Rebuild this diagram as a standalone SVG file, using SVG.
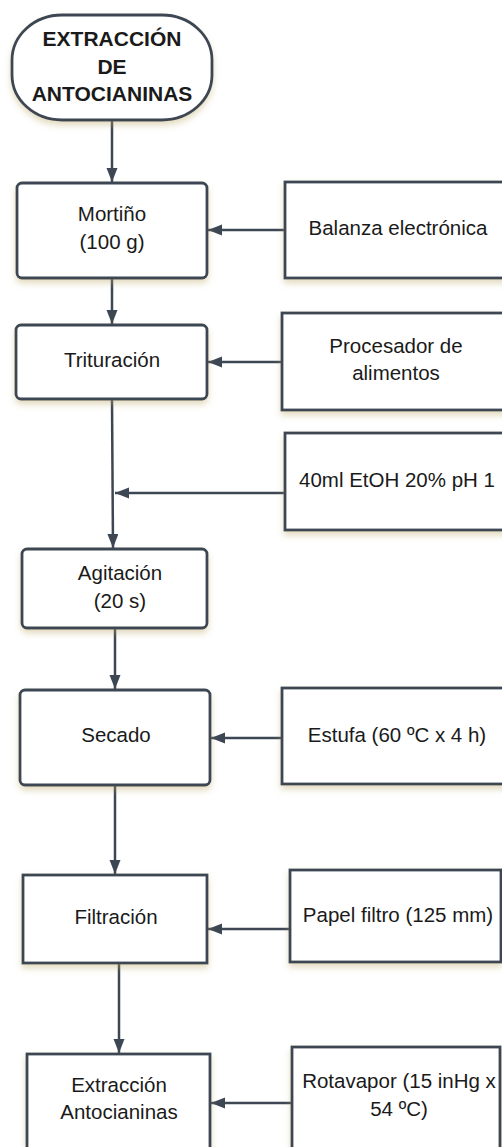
<svg xmlns="http://www.w3.org/2000/svg" width="502" height="1147" viewBox="0 0 502 1147">
<defs>
<filter id="sh" x="-10%" y="-10%" width="120%" height="130%">
<feDropShadow dx="0" dy="4" stdDeviation="3" flood-color="#b8a464" flood-opacity="0.4"/>
</filter>
<marker id="ah" markerUnits="userSpaceOnUse" markerWidth="15" markerHeight="12" refX="14" refY="5.5" orient="auto">
<path d="M0,0 L14,5.5 L0,11 z" fill="#3d4753"/>
</marker>
<style>
.box{fill:#fff;stroke:#3d4753;stroke-width:2.8;filter:url(#sh)}
.t{font-family:"Liberation Sans",Arial,sans-serif;font-size:20.5px;fill:#1a1a1a;text-anchor:middle}
.b{font-weight:bold;font-size:21px}
.c{fill:none;stroke:#3d4753;stroke-width:2.5;marker-end:url(#ah)}
</style>
</defs>
<rect width="502" height="1147" fill="#fff"/>
<g id="connectors">
<path class="c" d="M112,120 V182"/>
<path class="c" d="M285,230 H208"/>
<path class="c" d="M112,278 V324"/>
<path class="c" d="M282,362 H208"/>
<path class="c" d="M112,399 L113,548"/>
<path class="c" d="M285,493 H115"/>
<path class="c" d="M115,628 V689"/>
<path class="c" d="M282,738 H211"/>
<path class="c" d="M115,785 V874"/>
<path class="c" d="M290,929 H208"/>
<path class="c" d="M119,963 V1053"/>
<path class="c" d="M292,1103 H211"/>
</g>
<g id="start">
<rect class="box" x="12" y="15" width="200" height="105" rx="50" ry="45"/>
<text class="t b" x="112" y="46">EXTRACCIÓN</text>
<text class="t b" x="112" y="74">DE</text>
<text class="t b" x="112" y="101">ANTOCIANINAS</text>
</g>
<g id="mortino">
<rect class="box" x="17" y="183" width="190" height="95" rx="5"/>
<text class="t" x="112" y="221">Mortiño</text>
<text class="t" x="112" y="249">(100 g)</text>
</g>
<g id="balanza">
<rect class="box" x="285" y="182" width="240" height="96"/>
<text class="t" x="398" y="235">Balanza electrónica</text>
</g>
<g id="trituracion">
<rect class="box" x="16" y="325" width="191" height="74" rx="5"/>
<text class="t" x="112" y="367">Trituración</text>
</g>
<g id="procesador">
<rect class="box" x="282" y="313" width="240" height="97"/>
<text class="t" x="396" y="353">Procesador de</text>
<text class="t" x="396" y="380">alimentos</text>
</g>
<g id="etoh">
<rect class="box" x="285" y="433" width="240" height="97"/>
<text class="t" x="397" y="487">40ml EtOH 20% pH 1</text>
</g>
<g id="agitacion">
<rect class="box" x="22" y="549" width="185" height="79" rx="5"/>
<text class="t" x="120" y="580">Agitación</text>
<text class="t" x="120" y="608">(20 s)</text>
</g>
<g id="secado">
<rect class="box" x="20" y="690" width="190" height="95" rx="5"/>
<text class="t" x="116" y="742">Secado</text>
</g>
<g id="estufa">
<rect class="box" x="282" y="688" width="240" height="96"/>
<text class="t" x="397" y="742">Estufa (60 ºC x 4 h)</text>
</g>
<g id="filtracion">
<rect class="box" x="23" y="875" width="184" height="88"/>
<text class="t" x="116" y="924">Filtración</text>
</g>
<g id="papel">
<rect class="box" x="290" y="870" width="211" height="92"/>
<text class="t" x="398" y="922">Papel filtro (125 mm)</text>
</g>
<g id="extraccion">
<rect class="box" x="27" y="1054" width="183" height="120"/>
<text class="t" x="119" y="1092">Extracción</text>
<text class="t" x="119" y="1119">Antocianinas</text>
</g>
<g id="rotavapor">
<rect class="box" x="292" y="1047" width="208" height="120"/>
<text class="t" x="399" y="1088">Rotavapor (15 inHg x</text>
<text class="t" x="399" y="1116">54 ºC)</text>
</g>
</svg>
